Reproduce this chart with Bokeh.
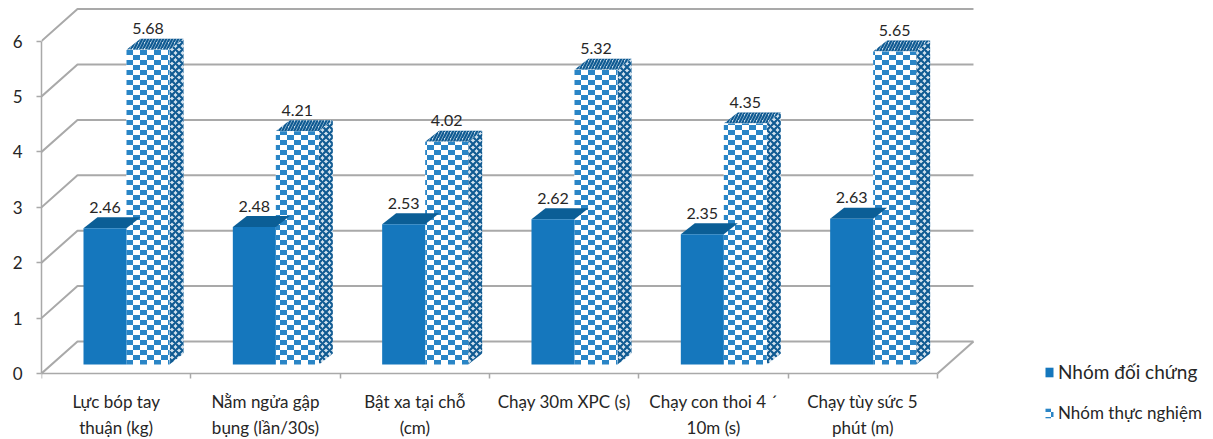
import base64, struct, zlib
from bokeh.embed import file_html
from bokeh.resources import INLINE
from bokeh.core.properties import value
from bokeh.models import ColumnDataSource, FixedTicker, ImageURLTexture, Legend, LegendItem, Range1d
from bokeh.plotting import figure

categories = ["Lực bóp tay\nthuận (kg)", "Nằm ngửa gập\nbụng (lần/30s)", "Bật xa tại chỗ\n(cm)",
              "Chạy 30m XPC (s)", "Chạy con thoi 4 ´\n10m (s)", "Chạy tùy sức 5\nphút (m)"]
control = [2.46, 2.48, 2.53, 2.62, 2.35, 2.63]
experiment = [5.68, 4.21, 4.02, 5.32, 4.35, 5.65]
y_ticks = [0, 1, 2, 3, 4, 5, 6]
series_names = ["Nhóm đối chứng", "Nhóm thực nghiệm"]

FONT = "Lato"
BLUE = "#1577BD"
DARK = "#0B5E96"
GRID = "#A9A9A9"
TEXT = "#262626"

W, H = 1213, 439
LEFT, AXIS_Y = 41, 373
UX, UY = 149.33, 55.4               # pixels per category / per value unit
X_END = (W - LEFT) / UX
Y_END = AXIS_Y / UY
Y_START = -(H - AXIS_Y) / UY
n = len(categories)


def png_uri(w, h, rows):
    raw = b"".join(b"\x00" + bytes(c for px in row for c in px) for row in rows)
    def chunk(t, d):
        return struct.pack(">I", len(d)) + t + d + struct.pack(">I", zlib.crc32(t + d))
    data = b"\x89PNG\r\n\x1a\n" + chunk(b"IHDR", struct.pack(">IIBBBBB", w, h, 8, 2, 0, 0, 0)) \
        + chunk(b"IDAT", zlib.compress(raw)) + chunk(b"IEND", b"")
    return "data:image/png;base64," + base64.b64encode(data).decode()


def checker(cw, ch, ink, paper):
    rows = []
    for r in range(ch * 2):
        row = []
        for c in range(cw * 2):
            on = (c < cw) == (r < ch)
            row.append(ink if on else paper)
        rows.append(row)
    return png_uri(cw * 2, ch * 2, rows)


front_tex = ImageURLTexture(url=checker(7, 5, (0x2A, 0x85, 0xC6), (0xFF, 0xFF, 0xFF)))

p = figure(width=W, height=H, output_backend="svg", toolbar_location=None,
           x_range=Range1d(0, X_END), y_range=Range1d(Y_START, Y_END),
           min_border_left=LEFT, min_border_bottom=0, min_border_top=0, min_border_right=0,
           outline_line_color=None, background_fill_color="white")
p.grid.visible = False

# Depth of the 3D box, and of each bar inside it
BOX_DX, BOX_DY = 36 / UX, 32 / UY
BASE_DY = 9 / UY
BAR_DX, BAR_DY = 14 / UX, 11 / UY
BAR_W = 43 / UX
GROUP_L = 42 / UX

# Walls and floor
xs, ys = [], []
for t in y_ticks:
    xs.append([0, BOX_DX, 6 + BOX_DX])
    ys.append([t, t + BOX_DY, t + BOX_DY])
xs.append([6, 6 + BOX_DX])
ys.append([0, BOX_DY])
p.multi_line(xs, ys, line_color=GRID, line_width=2)

# Bars
cx = [i + GROUP_L for i in range(n)]
px = [x + BAR_W for x in cx]
ce_x = [x + BAR_W / 2 for x in cx]
pe_x = [x + BAR_W / 2 for x in px]


def box_side(x0, vals):
    return ([[x + BAR_W, x + BAR_W + BAR_DX, x + BAR_W + BAR_DX, x + BAR_W] for x in x0],
            [[BASE_DY, BASE_DY + BAR_DY, v + BASE_DY + BAR_DY, v + BASE_DY] for v in vals])


def box_top(x0, vals):
    return ([[x, x + BAR_W, x + BAR_W + BAR_DX, x + BAR_DX] for x in x0],
            [[v + BASE_DY, v + BASE_DY, v + BASE_DY + BAR_DY, v + BASE_DY + BAR_DY] for v in vals])


sx, sy = box_side(px, experiment)
p.patches(sx, sy, fill_color="#D3E2EE", line_color=None, hatch_pattern="diagonal_cross",
          hatch_color="#0F5A92", hatch_scale=7, hatch_weight=2.2)
tx, ty = box_top(px, experiment)
p.patches(tx, ty, fill_color="#C9DCEA", line_color=None, hatch_pattern="right_diagonal_line",
          hatch_color="#0F5A92", hatch_scale=6, hatch_weight=2.2)
r_exp = p.vbar(x=pe_x, top=[v + BASE_DY for v in experiment], bottom=BASE_DY, width=BAR_W,
               fill_color="white", line_color=None, hatch_pattern="x",
               hatch_extra={"x": front_tex}, hatch_color=BLUE)

tx, ty = box_top(cx, control)
p.patches(tx, ty, fill_color=DARK, line_color=None)
r_ctl = p.vbar(x=ce_x, top=[v + BASE_DY for v in control], bottom=BASE_DY, width=BAR_W,
               fill_color=BLUE, line_color=None)

# Value labels
lab_c = ColumnDataSource(dict(x=ce_x, y=[v + BASE_DY for v in control], t=[f"{v:.2f}" for v in control]))
lab_e = ColumnDataSource(dict(x=pe_x, y=[v + BASE_DY for v in experiment], t=[f"{v:.2f}" for v in experiment]))
for src in (lab_c, lab_e):
    p.text(x="x", y="y", text="t", source=src, text_align="center", text_baseline="middle",
           y_offset=-21, text_font=value(FONT), text_font_size="16px", text_color=TEXT)

# Axes
ya = p.yaxis[0]
ya.ticker = FixedTicker(ticks=y_ticks)
ya.bounds = (0, 6)
ya.axis_line_color = GRID
ya.axis_line_width = 1.5
ya.major_tick_line_color = GRID
ya.major_tick_line_width = 1.5
ya.major_tick_out = 5
ya.major_tick_in = 0
ya.minor_tick_line_color = None
ya.major_label_standoff = 14
ya.major_label_text_font = FONT
ya.major_label_text_font_size = "17px"
ya.major_label_text_color = TEXT

xa = p.xaxis[0]
mids = [i + 0.5 for i in range(n)]
xa.fixed_location = 0
xa.ticker = FixedTicker(ticks=mids, minor_ticks=list(range(n + 1)))
xa.major_label_overrides = dict(zip(mids, categories))
xa.bounds = (0, 6)
xa.axis_line_color = GRID
xa.axis_line_width = 1.5
xa.major_tick_line_color = None
xa.major_tick_out = 0
xa.major_tick_in = 0
xa.minor_tick_line_color = GRID
xa.minor_tick_line_width = 1.5
xa.minor_tick_out = 5
xa.minor_tick_in = 0
xa.major_label_standoff = 12
xa.major_label_text_font = FONT
xa.major_label_text_font_size = "17px"
xa.major_label_text_color = TEXT
xa.major_label_text_line_height = 1.28

# Legends, one per row because the two rows differ in size
for name, rend, size, loc in ((series_names[0], r_ctl, "19px", (1003, 56)),
                              (series_names[1], r_exp, "17px", (1003, 16))):
    leg = Legend(items=[LegendItem(label=name, renderers=[rend])], location=loc,
                 border_line_color=None, background_fill_alpha=0, margin=0, padding=0,
                 glyph_width=10, glyph_height=12, label_standoff=4,
                 label_text_font=FONT, label_text_font_size=size, label_text_color=TEXT)
    p.add_layout(leg, "center")

open("out.html", "w").write(file_html(p, INLINE))
